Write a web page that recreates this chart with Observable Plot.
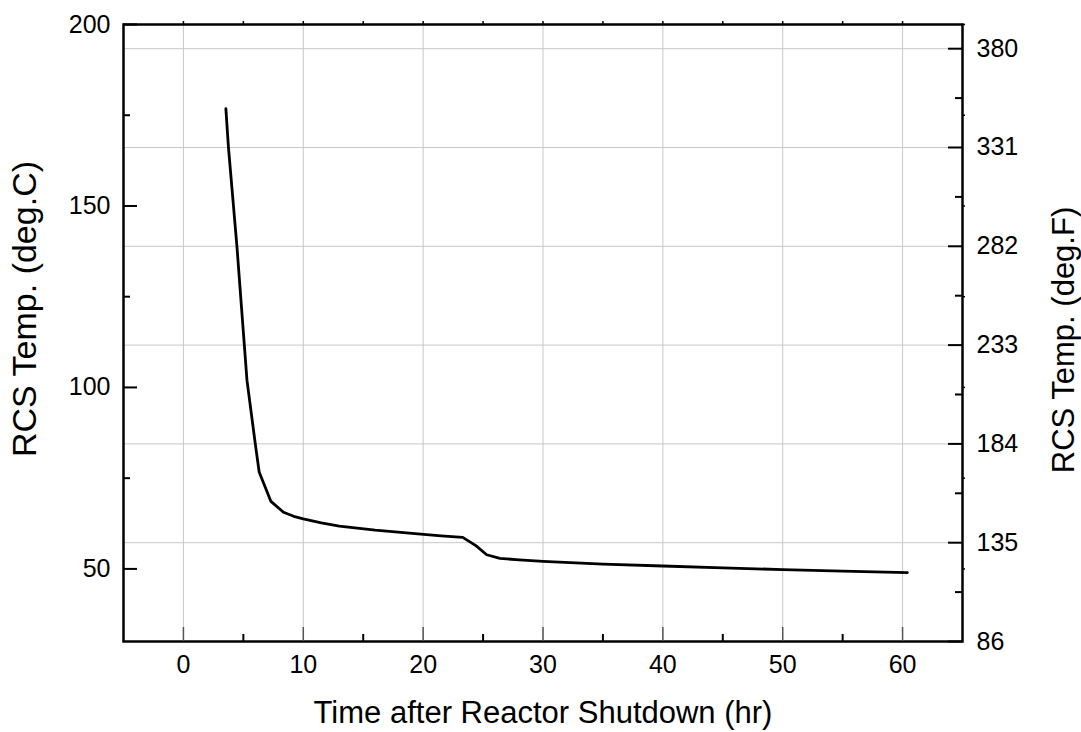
<!DOCTYPE html>
<html>
<head>
<meta charset="utf-8">
<script src="https://cdn.jsdelivr.net/npm/d3@7"></script>
<script src="https://cdn.jsdelivr.net/npm/@observablehq/plot@0.6"></script>
<style>
  html, body { margin: 0; padding: 0; background: #fff; }
  svg { display: block; }
</style>
</head>
<body>
<script>
// ---- data ----
const timeHr = [3.54, 3.76, 4.46, 5.3, 5.99, 6.32, 7.3, 8.35, 9.2, 10.0, 11.5, 13.0, 16.0, 19.8, 21.5, 23.3, 24.4, 25.3, 26.4, 28.0, 30.0, 35.0, 40.0, 45.0, 50.0, 55.0, 60.4];
const tempC  = [176.8, 166.0, 139.0, 102.0, 84.6, 76.7, 68.6, 65.6, 64.5, 63.8, 62.7, 61.8, 60.7, 59.6, 59.1, 58.7, 56.4, 53.9, 52.9, 52.5, 52.1, 51.3, 50.8, 50.3, 49.8, 49.4, 49.0];
const xMajorTicks = [0, 10, 20, 30, 40, 50, 60];
const xMinorTicks = [5, 15, 25, 35, 45, 55];
const xTopTicks = [0, 5, 10, 15, 20, 25, 30, 35, 40, 45, 50, 55, 60];
const yMajorTicksC = [50, 100, 150, 200];
const yMinorTicksC = [75, 125, 175];
const yTicksF = [86, 135, 184, 233, 282, 331, 380];
const yMinorTicksF = [110.5, 159.5, 208.5, 257.5, 306.5, 355.5];
const xTitle = "Time after Reactor Shutdown (hr)";
const yTitleLeft = "RCS Temp. (deg.C)";
const yTitleRight = "RCS Temp. (deg.F)";

const data = timeHr.map((t, i) => ({t, c: tempC[i]}));
const fToC = f => (f - 32) / 1.8;
const FONT = "'Liberation Sans', Arial, Helvetica, sans-serif";

const WIDTH = 1081, HEIGHT = 732;
const ML = 123, MR = 119, MT = 24, MB = 91;
const FW = WIDTH - ML - MR, FH = HEIGHT - MT - MB;
const MAJ = 14, MIN = 7, MIR = 3;

const chart = Plot.plot({
  width: WIDTH,
  height: HEIGHT,
  marginLeft: ML,
  marginRight: MR,
  marginTop: MT,
  marginBottom: MB,
  style: {fontFamily: FONT, background: "#fff", color: "#000"},
  x: {domain: [-5, 65], axis: null},
  y: {domain: [30, 200], axis: null},
  marks: [
    // grid
    Plot.ruleX(xMajorTicks, {x: d => d, stroke: "#c8c8c8", strokeWidth: 1}),
    Plot.ruleY(yTicksF, {y: f => fToC(f), stroke: "#c8c8c8", strokeWidth: 1}),
    // data
    Plot.line(data, {x: "t", y: "c", stroke: "#000", strokeWidth: 2.8, strokeLinejoin: "round"}),
    // frame
    Plot.frame({stroke: "#000", strokeWidth: 2.5}),
    // bottom ticks (inward)
    Plot.tickX(xMajorTicks, {x: d => d, insetTop: FH - MAJ, stroke: "#555", strokeWidth: 1.5}),
    Plot.tickX(xMinorTicks, {x: d => d, insetTop: FH - MIN, stroke: "#000", strokeWidth: 2}),
    // top mirrored ticks (outward, tiny)
    Plot.tickX(xTopTicks, {x: d => d, insetTop: -MIR, insetBottom: FH, stroke: "#000", strokeWidth: 1.5}),
    // left ticks (inward)
    Plot.tickY(yMajorTicksC, {y: d => d, insetRight: FW - MAJ, stroke: "#000", strokeWidth: 2}),
    Plot.tickY(yMinorTicksC, {y: d => d, insetRight: FW - MIN, stroke: "#000", strokeWidth: 2}),
    // right ticks (inward)
    Plot.tickY(yTicksF, {y: f => fToC(f), insetLeft: FW - MAJ, stroke: "#000", strokeWidth: 2}),
    Plot.tickY(yMinorTicksF, {y: f => fToC(f), insetLeft: FW - MIN, stroke: "#000", strokeWidth: 2}),
    // right mirrored ticks (outward, tiny)
    Plot.tickY(yMajorTicksC.concat(yMinorTicksC), {y: d => d, insetLeft: FW, insetRight: -MIR, stroke: "#000", strokeWidth: 1.5}),
    // tick labels
    Plot.text(xMajorTicks, {x: d => d, text: d => String(d), frameAnchor: "bottom", lineAnchor: "top", dy: 14, fontSize: 25, fill: "#000"}),
    Plot.text(yMajorTicksC, {y: d => d, text: d => String(d), frameAnchor: "left", textAnchor: "end", dx: -13, fontSize: 25, fill: "#000"}),
    Plot.text(yTicksF, {y: f => fToC(f), text: f => String(f), frameAnchor: "right", textAnchor: "start", dx: 14, fontSize: 25, fill: "#000"}),
    // titles
    Plot.text([xTitle], {text: d => d, frameAnchor: "bottom", textAnchor: "middle", lineAnchor: "bottom", dy: 81, fontSize: 31, fill: "#000"}),
    Plot.text([yTitleLeft], {text: d => d, frameAnchor: "left", textAnchor: "middle", rotate: -90, lineAnchor: "top", dx: -112, dy: -24, fontSize: 34, fill: "#000"}),
    Plot.text([yTitleRight], {text: d => d, frameAnchor: "right", textAnchor: "middle", rotate: -90, lineAnchor: "bottom", dx: 111, dy: 7, fontSize: 31, fill: "#000"})
  ]
});
document.body.appendChild(chart);
</script>
</body>
</html>
